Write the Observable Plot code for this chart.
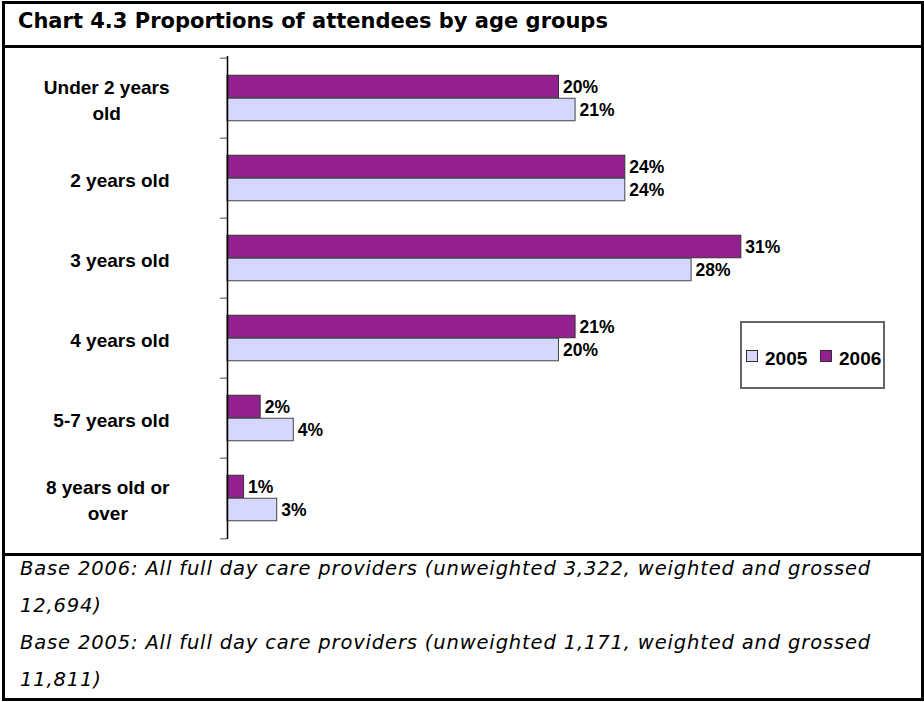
<!DOCTYPE html>
<html><head><meta charset="utf-8">
<script src="https://cdn.jsdelivr.net/npm/d3@7"></script>
<script src="https://cdn.jsdelivr.net/npm/@observablehq/plot@0.6"></script>
<style>
body{margin:0;background:#fff;}
#page{position:relative;width:924px;height:702px;overflow:hidden;background:#fff;}
#box{position:absolute;left:2px;top:1px;width:922px;height:700px;box-sizing:border-box;border:3px solid #000;}
.sep{position:absolute;left:2px;width:922px;height:3px;background:#000;}
#title{position:absolute;left:18px;top:11px;font-family:'DejaVu Sans';font-weight:bold;font-size:21px;line-height:21px;white-space:nowrap;color:#000;}
#notes{position:absolute;left:20px;top:550px;font-family:'DejaVu Sans';font-style:italic;font-size:19.5px;letter-spacing:0.85px;line-height:37px;white-space:nowrap;color:#000;}
#chart{position:absolute;left:0;top:48px;}
#chart svg{background:none !important;overflow:visible;}
#legend{position:absolute;left:740px;top:321px;width:145px;height:68px;box-sizing:border-box;border:2px solid #666;background:#fff;}
.sw{position:absolute;width:12px;height:12px;box-sizing:border-box;border:1.5px solid #333;top:27px;}
.lt{position:absolute;top:26px;font-family:'Liberation Sans';font-weight:bold;font-size:19px;line-height:19px;white-space:nowrap;color:#000;}
</style></head>
<body>
<div id="page">
  <div id="box"></div>
  <div class="sep" style="top:45px"></div>
  <div class="sep" style="top:553px"></div>
  <div id="title"></div>
  <div id="chart"></div>
  <div id="legend"></div>
  <div id="notes"></div>
</div>
<script>
// ---- data ----
const title = "Chart 4.3 Proportions of attendees by age groups";
const categories = ["Under 2 years old", "2 years old", "3 years old", "4 years old", "5-7 years old", "8 years old or over"];
const categoryLines = [["Under 2 years", "old"], ["2 years old"], ["3 years old"], ["4 years old"], ["5-7 years old"], ["8 years old or", "over"]];
const series = ["2005", "2006"];
const values2005 = [21, 24, 28, 20, 4, 3];
const values2006 = [20, 24, 31, 21, 2, 1];
const seriesColors = ["#D5D8FC", "#93208E"];
const notes = [
  "Base 2006: All full day care providers (unweighted 3,322, weighted and grossed",
  "12,694)",
  "Base 2005: All full day care providers (unweighted 1,171, weighted and grossed",
  "11,811)"
];

// ---- text blocks ----
document.getElementById("title").textContent = title;
const notesEl = document.getElementById("notes");
notes.forEach(n => { const d = document.createElement("div"); d.textContent = n; notesEl.appendChild(d); });

// ---- chart ----
const W = 924, H = 505, mt = 8, mb = 14, ml = 227, mr = 34;
const bw = (H - mt - mb) / categories.length;
const barH = 23;
const rows = categories.map((c, i) => ({cat: c, lines: categoryLines[i], v2005: values2005[i], v2006: values2006[i]}));
const ctx = document.createElement("canvas").getContext("2d");
const labelFont = "bold 19px 'Liberation Sans'";
ctx.font = labelFont;
const labelRight = 169;
const txt = {fontFamily: "Liberation Sans", fontWeight: "bold", fill: "#000"};

const labelMarks = rows.map(r => {
  const w = Math.max(...r.lines.map(l => ctx.measureText(l).width));
  return Plot.text([r], {y: "cat", text: d => d.lines.join("\n"), frameAnchor: "left",
    dx: labelRight - w / 2 - ml, textAnchor: "middle", lineAnchor: "middle", lineHeight: 1.37,
    fontSize: 19, ...txt});
});

const chart = Plot.plot({
  width: W, height: H,
  marginTop: mt, marginBottom: mb, marginLeft: ml, marginRight: mr,
  style: {background: "none"},
  x: {domain: [0, 40], axis: null},
  y: {domain: categories, type: "band", padding: 0, axis: null},
  marks: [
    Plot.barX(rows, {y: "cat", x: "v2006", fill: seriesColors[1], stroke: "#333", strokeWidth: 1,
      insetTop: bw / 2 - barH, insetBottom: bw / 2}),
    Plot.barX(rows, {y: "cat", x: "v2005", fill: seriesColors[0], stroke: "#444", strokeWidth: 1,
      insetTop: bw / 2, insetBottom: bw / 2 - barH}),
    Plot.text(rows, {y: "cat", x: "v2006", text: d => d.v2006 + "%", dx: 4, dy: -barH / 2,
      textAnchor: "start", fontSize: 17.5, ...txt}),
    Plot.text(rows, {y: "cat", x: "v2005", text: d => d.v2005 + "%", dx: 4, dy: barH / 2,
      textAnchor: "start", fontSize: 17.5, ...txt}),
    Plot.ruleY(categories, {y: d => d, x1: 0, x2: 0, insetLeft: -7, dy: -bw / 2, stroke: "#8a8a8a", strokeWidth: 1.5}),
    Plot.ruleY(categories.slice(-1), {y: d => d, x1: 0, x2: 0, insetLeft: -7, dy: bw / 2, stroke: "#8a8a8a", strokeWidth: 1.5}),
    Plot.ruleX([0], {stroke: "#000", strokeWidth: 1.5}),
    ...labelMarks
  ]
});
document.getElementById("chart").appendChild(chart);

// ---- legend ----
const legend = document.getElementById("legend");
const legendPos = [[4, 23], [78, 97]];
series.forEach((s, i) => {
  const sw = document.createElement("div");
  sw.className = "sw"; sw.style.left = legendPos[i][0] + "px"; sw.style.background = seriesColors[i];
  const t = document.createElement("div");
  t.className = "lt"; t.style.left = legendPos[i][1] + "px"; t.textContent = s;
  legend.appendChild(sw); legend.appendChild(t);
});
</script>
</body></html>
